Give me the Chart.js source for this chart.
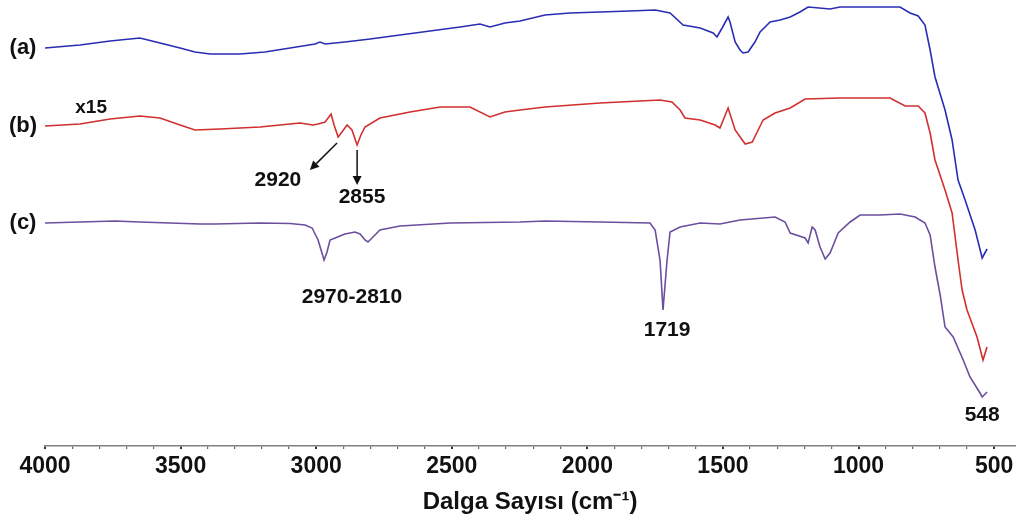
<!DOCTYPE html>
<html><head><meta charset="utf-8">
<script src="https://cdn.jsdelivr.net/npm/chart.js@4/dist/chart.umd.min.js"></script>
<style>html,body{margin:0;padding:0;background:#fff}#wrap{width:1019px;height:523px;position:relative}</style>
</head><body><div id="wrap"><canvas id="c"></canvas></div>
<script>
// Wavenumbers (cm-1) and transmittance (arbitrary units, offset curves)
const wnA  = [4000,3871,3760,3650,3576,3502,3447,3391,3281,3189,3096,3004,2986,2967,2894,2801,2691,2580,2469,2396,2359,2304,2248,2156,2064,1953,1843,1750,1695,1647,1584,1536,1522,1503,1481,1474,1455,1437,1426,1407,1382,1363,1326,1289,1252,1216,1186,1105,1068,957,847,810,780,755,736,718,681,655,633,607,570,544,526];
const valA = [398,401,405,408,403,398,394,392,392,394,398,402,404,402,404,407,411,415,419,422,419,423,425,431,433,434,435,436,433,421,418,413,409,418,429,424,404,396,393,394,404,414,424,426,429,434,439,437,439,439,439,433,430,421,396,369,336,306,266,246,216,188,197];

const wnB  = [4000,3871,3760,3650,3576,3502,3447,3355,3207,3060,3012,2993,2967,2945,2934,2919,2905,2886,2868,2849,2835,2820,2765,2654,2543,2433,2359,2304,2248,2156,1953,1806,1732,1688,1658,1640,1584,1529,1511,1481,1455,1418,1392,1352,1308,1252,1197,1068,884,828,780,755,736,718,681,655,633,618,600,563,541,526];
const valB = [320,322,327,330,328,321,316,317,319,323,321,322,324,332,321,309,314,321,316,301,311,319,328,334,339,339,329,334,336,339,343,345,346,344,336,328,326,321,318,338,316,302,304,326,333,338,347,348,348,340,340,333,313,286,256,233,186,156,136,109,86,99];

const wnC  = [4000,3871,3742,3650,3539,3428,3373,3207,3096,3041,3015,2993,2982,2971,2960,2949,2930,2912,2894,2875,2857,2838,2820,2809,2794,2765,2691,2506,2248,2156,1953,1769,1750,1732,1721,1706,1695,1658,1584,1511,1437,1308,1271,1252,1197,1186,1171,1160,1142,1123,1105,1075,1031,994,921,847,791,755,736,718,699,681,651,614,589,552,544,526];
const valC = [223,224,225,224,223,222,222,223,222.5,221,218,206,196,186,194,206,208,210,212,213,214,212,206,204,208,216,220,223,224,225,224,223,216,186,136,186,214,219,223,222,226,229,224,213,208,203,219,216,199,187,193,213,224,231,231,232,229,223,211,179,151,119,109,86,69,53,49,54];

const seriesLabels = ['(a)','(b)','(c)'];
const seriesColors = ['#2a2db4','#d22f2f','#6b4f9e'];
const majorTickLabels = [4000,3500,3000,2500,2000,1500,1000,500];

// Peak annotations: text with anchor in data units (wavenumber, a.u.)
const noteTexts = ['x15','2920','2855','2970-2810','1719','548'];
const noteWn    = [3830,3141,2831,2868,1706,544];
const noteVal   = [338,266,249,149,116,31];
// Arrows: start/end in data units
const arrowFromWn = [2923,2849], arrowFromVal = [303,296];
const arrowToWn   = [3023,2849], arrowToVal   = [276,261];

const FONT = '"Liberation Sans", Arial, Helvetica, sans-serif';

const minorTicks = [];
for (let v = 500; v <= 4000; v += 100) minorTicks.push(v);

function toXY(wn, val){ return wn.map((w,i)=>({x:w, y:val[i]})); }

const annot = {
  id:'annot',
  afterDatasetsDraw(chart){
    const ctx = chart.ctx, xs = chart.scales.x, ys = chart.scales.y;
    ctx.save();
    ctx.fillStyle = '#111';
    ctx.textAlign = 'center'; ctx.textBaseline = 'middle';
    // series labels
    ctx.font = 'bold 22px ' + FONT;
    const firstVals = [valA[0], valB[0], valC[0]];
    seriesLabels.forEach((t,i)=>{
      ctx.fillText(t, chart.chartArea.left - 22, ys.getPixelForValue(firstVals[i]));
    });
    noteTexts.forEach((t,i)=>{
      ctx.font = (i===0 ? 'bold 19px ' : 'bold 21px ') + FONT;
      ctx.fillText(t, xs.getPixelForValue(noteWn[i]), ys.getPixelForValue(noteVal[i]));
    });
    ctx.strokeStyle = '#111'; ctx.lineWidth = 1.5;
    arrowFromWn.forEach((w,i)=>{
      const x1 = xs.getPixelForValue(w), y1 = ys.getPixelForValue(arrowFromVal[i]);
      const x2 = xs.getPixelForValue(arrowToWn[i]), y2 = ys.getPixelForValue(arrowToVal[i]);
      const a = Math.atan2(y2-y1, x2-x1), L = 9, W = 4.5;
      const bx = x2 - L*Math.cos(a), by = y2 - L*Math.sin(a);
      ctx.beginPath(); ctx.moveTo(x1,y1); ctx.lineTo(bx,by); ctx.stroke();
      ctx.beginPath();
      ctx.moveTo(x2,y2);
      ctx.lineTo(bx + W*Math.sin(a), by - W*Math.cos(a));
      ctx.lineTo(bx - W*Math.sin(a), by + W*Math.cos(a));
      ctx.closePath(); ctx.fill();
    });
    ctx.restore();
  }
};

new Chart(document.getElementById('c'), {
  type:'line',
  data:{
    datasets:[
      {label:seriesLabels[0], data:toXY(wnA,valA), borderColor:seriesColors[0]},
      {label:seriesLabels[1], data:toXY(wnB,valB), borderColor:seriesColors[1]},
      {label:seriesLabels[2], data:toXY(wnC,valC), borderColor:seriesColors[2]}
    ]
  },
  options:{
    responsive:true, maintainAspectRatio:false, animation:false,
    layout:{padding:{left:45,right:4,top:0,bottom:0}},
    elements:{point:{radius:0}, line:{borderWidth:1.6, tension:0}},
    plugins:{legend:{display:false}, tooltip:{enabled:false}},
    scales:{
      x:{
        type:'linear', reverse:true, min:423, max:4000,
        afterBuildTicks:(s)=>{ s.ticks = minorTicks.map(v=>({value:v})); },
        afterFit:(s)=>{ s.height = 77; },
        border:{display:true, color:'#808080', width:1.5},
        grid:{drawOnChartArea:false, drawTicks:true, tickLength:3,
              color:(c)=> majorTickLabels.includes(c.tick && c.tick.value) ? '#333' : '#666',
              lineWidth:(c)=> majorTickLabels.includes(c.tick && c.tick.value) ? 2 : 1.2},
        ticks:{
          autoSkip:false, maxRotation:0, padding:4, color:'#111',
          font:{family:FONT, size:23, weight:'bold'},
          callback:(v)=> majorTickLabels.includes(v) ? String(v) : ''
        },
        title:{display:true, text:'Dalga Sayısı (cm⁻¹)', color:'#111',
               font:{family:FONT, size:24, weight:'bold'}, padding:{top:4,bottom:6}}
      },
      y:{display:false, min:0, max:446}
    }
  },
  plugins:[annot]
});
</script>
</body></html>
